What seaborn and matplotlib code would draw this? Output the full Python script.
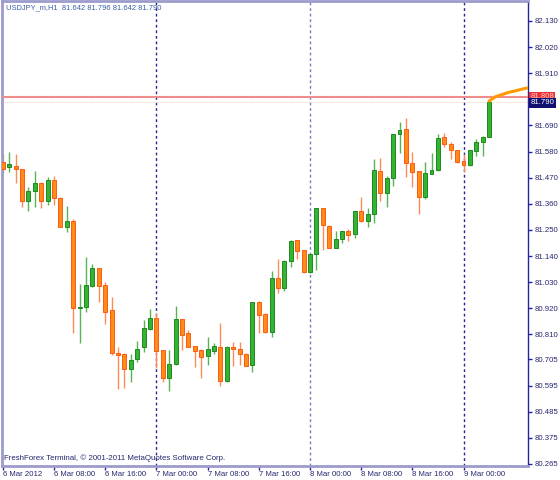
"""
USDJPY_m H1 candlestick chart in MetaTrader style.
Run: python plot.py  -> out.png
"""

import matplotlib

matplotlib.use("Agg")
import matplotlib.pyplot as plt
import matplotlib.transforms as mtransforms
import seaborn as sns

# --- data: one candle per hour, 6 Mar 2012 00:00 .. 9 Mar 2012 04:00 ---
opens = [81.538, 81.517, 81.518, 81.506, 81.371, 81.415, 81.447, 81.371, 81.459, 81.386,
         81.264, 81.288, 80.920, 80.925, 81.015, 81.089, 81.018, 80.912, 80.733, 80.727,
         80.663, 80.708, 80.759, 80.834, 80.881, 80.745, 80.626, 80.684, 80.875, 80.815,
         80.761, 80.745, 80.719, 80.742, 80.759, 80.615, 80.756, 80.750, 80.728, 80.681,
         80.946, 80.896, 80.822, 81.048, 81.005, 81.120, 81.207, 81.164, 81.071, 81.148,
         81.341, 81.268, 81.176, 81.210, 81.245, 81.231, 81.329, 81.289, 81.317, 81.500,
         81.405, 81.468, 81.655, 81.675, 81.531, 81.498, 81.388, 81.486, 81.502, 81.642,
         81.612, 81.586, 81.540, 81.522, 81.584, 81.620, 81.642]
highs = [81.570, 81.577, 81.569, 81.508, 81.432, 81.500, 81.452, 81.472, 81.477, 81.390,
         81.352, 81.295, 81.023, 81.135, 81.107, 81.090, 81.030, 80.969, 80.757, 80.733,
         80.728, 80.781, 80.871, 80.917, 80.901, 80.746, 80.745, 80.930, 80.877, 80.829,
         80.763, 80.747, 80.798, 80.773, 80.857, 80.761, 80.780, 80.780, 80.731, 80.947,
         80.952, 80.901, 81.077, 81.126, 81.122, 81.208, 81.209, 81.166, 81.150, 81.342,
         81.342, 81.269, 81.245, 81.245, 81.254, 81.330, 81.388, 81.341, 81.548, 81.552,
         81.477, 81.656, 81.703, 81.720, 81.580, 81.500, 81.538, 81.575, 81.655, 81.660,
         81.622, 81.587, 81.569, 81.588, 81.632, 81.645, 81.796]
lows = [81.489, 81.495, 81.447, 81.348, 81.331, 81.348, 81.344, 81.354, 81.354, 81.262,
        81.243, 80.815, 80.776, 80.906, 81.009, 80.948, 80.853, 80.724, 80.579, 80.586,
        80.609, 80.694, 80.737, 80.829, 80.670, 80.611, 80.573, 80.683, 80.745, 80.757,
        80.674, 80.628, 80.681, 80.728, 80.593, 80.612, 80.677, 80.681, 80.677, 80.653,
        80.815, 80.815, 80.801, 80.983, 80.994, 81.096, 81.128, 81.068, 81.069, 81.082,
        81.167, 81.174, 81.175, 81.194, 81.204, 81.217, 81.284, 81.261, 81.281, 81.373,
        81.348, 81.435, 81.573, 81.474, 81.429, 81.319, 81.381, 81.485, 81.499, 81.598,
        81.548, 81.533, 81.494, 81.519, 81.563, 81.563, 81.642]
closes = [81.506, 81.528, 81.506, 81.371, 81.415, 81.447, 81.371, 81.461, 81.386, 81.264,
          81.288, 80.920, 80.925, 81.018, 81.089, 81.015, 80.906, 80.731, 80.724, 80.663,
          80.703, 80.749, 80.836, 80.881, 80.742, 80.626, 80.686, 80.875, 80.808, 80.759,
          80.742, 80.717, 80.748, 80.760, 80.615, 80.756, 80.748, 80.728, 80.679, 80.946,
          80.892, 80.822, 81.049, 81.005, 81.121, 81.204, 81.163, 81.074, 81.148, 81.341,
          81.270, 81.176, 81.211, 81.244, 81.229, 81.329, 81.289, 81.317, 81.502, 81.405,
          81.468, 81.655, 81.670, 81.531, 81.495, 81.388, 81.488, 81.502, 81.639, 81.613,
          81.587, 81.538, 81.522, 81.587, 81.622, 81.642, 81.790]

# indicator projection drawn after the last bar
proj_x = [76, 77, 78, 79, 80, 81, 82]
proj_y = [81.793, 81.811, 81.820, 81.829, 81.835, 81.842, 81.848]

ask_price = 81.808
bid_price = 81.790

x_tick_pos = [0, 8, 16, 24, 32, 40, 48, 56, 64, 72]
x_tick_labels = ["6 Mar 2012", "6 Mar 08:00", "6 Mar 16:00", "7 Mar 00:00",
                 "7 Mar 08:00", "7 Mar 16:00", "8 Mar 00:00", "8 Mar 08:00",
                 "8 Mar 16:00", "9 Mar 00:00"]
day_breaks = [24, 48, 72]

y_ticks = [82.130, 82.020, 81.910, 81.690, 81.580, 81.470, 81.360, 81.250,
           81.140, 81.030, 80.920, 80.810, 80.705, 80.595, 80.485, 80.375, 80.265]

title = "USDJPY_m,H1  81.642 81.796 81.642 81.790"
footer = "FreshForex Terminal, \u00a9 2001-2011 MetaQuotes Software Corp."

sns.set_theme(style="white")
plt.rcParams["font.family"] = ["Liberation Sans", "DejaVu Sans"]

FRAME = "#9c9ccc"
NAVY = "#24249c"
TEXT = "#26266e"
FS = 5.6


def draw_candles(ax):
    for i, (o, h, l, c) in enumerate(zip(opens, highs, lows, closes)):
        up = c >= o
        wick = "#55b455" if up else "#ff8a55"
        face = "#33b533" if up else "#ff8c1a"
        edge = "#1f8a1f" if up else "#ff5a10"
        ax.vlines(i, l, h, color=wick, lw=1, zorder=2)
        body = max(abs(c - o), 0.003)
        ax.bar(i, body, bottom=min(o, c), width=0.62, color=face,
               edgecolor=edge, linewidth=0.7, zorder=3)


def main():
    fig = plt.figure(figsize=(5.6, 4.8), dpi=100)
    fig.patch.set_facecolor("white")
    ax = fig.add_axes([0.0027, 0.0302, 0.9402, 0.9667])
    ax.set_facecolor("white")

    # period separators
    for d in day_breaks:
        col = "#7a7ac4" if d == 48 else NAVY
        ax.axvline(d, color=col, lw=1, ls=(0, (2, 2)), zorder=1)

    draw_candles(ax)

    ax.axhline(bid_price, color="#e6dcc0", lw=0.8, ls=(0, (1, 1)), zorder=1)
    ax.axhline(ask_price, color="#f08c8c", lw=1.5, zorder=4)
    sns.lineplot(x=proj_x, y=proj_y, ax=ax, color="#ff9a00", lw=2.2,
                 zorder=5, legend=False)

    ax.set_xlim(-0.19, 82.08)
    ax.set_ylim(80.2584, 82.212)

    # axes: right scale + time scale
    ax.yaxis.tick_right()
    ax.set_yticks(y_ticks)
    ax.set_yticklabels([f"{v:.3f}" for v in y_ticks])
    ax.tick_params(axis="y", direction="out", length=3, width=1, color=NAVY,
                   labelcolor=TEXT, labelsize=FS, pad=1.5, right=True, left=False)
    ax.set_xticks(x_tick_pos)
    ax.set_xticklabels(x_tick_labels)
    ax.tick_params(axis="x", direction="out", length=3, width=1, color=NAVY,
                   labelcolor=TEXT, labelsize=FS, pad=1, bottom=True)
    for lbl in ax.get_xticklabels():
        lbl.set_horizontalalignment("left")
    ax.set_xlabel("")
    ax.set_ylabel("")
    ax.grid(False)

    for side in ["left", "top", "bottom"]:
        ax.spines[side].set_color(FRAME)
        ax.spines[side].set_linewidth(2)
    ax.spines["right"].set_color(NAVY)
    ax.spines["right"].set_linewidth(1)

    # price boxes on the scale
    trans = mtransforms.blended_transform_factory(ax.transAxes, ax.transData)
    ax.text(1.004, ask_price + 0.004, f"{ask_price:.3f}", transform=trans,
            fontsize=FS, color="#ffd0d0", va="center", ha="left", clip_on=False,
            bbox=dict(boxstyle="square,pad=0.15", fc="#f03030", ec="none"))
    ax.text(1.004, bid_price - 0.004, f"{bid_price:.3f}", transform=trans,
            fontsize=FS, color="white", va="center", ha="left", clip_on=False,
            bbox=dict(boxstyle="square,pad=0.2", fc="#101070", ec="none"))

    fig.text(6 / 560, 1 - 8 / 480, title, fontsize=5.4, color="#3a5ea8",
             va="center", ha="left")
    fig.text(4 / 560, 1 - 458 / 480, footer, fontsize=5.7, color=TEXT,
             va="center", ha="left")

    fig.savefig("out.png", dpi=100)
    plt.close(fig)


if __name__ == "__main__":
    main()
